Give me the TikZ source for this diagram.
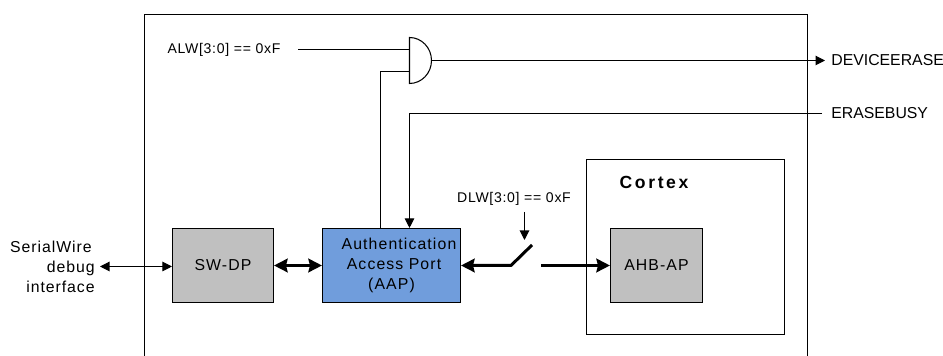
\documentclass[tikz,border=0pt]{standalone}
\usepackage{fontspec}
\setmainfont{Liberation Sans}
\usepackage{xcolor}
\usetikzlibrary{arrows.meta}
\definecolor{blockgray}{RGB}{192,192,192}
\definecolor{aapblue}{RGB}{112,157,220}
\tikzset{
  block/.style = {draw, line width = .6pt, minimum height = 1.48cm, inner sep = 0, align = center, font = \fontsize{9}{11.2}\selectfont\addfontfeature{LetterSpace=7}},
  thinline/.style = {line width = .6pt},
  thintip/.tip = {Triangle[length = 1.9mm, width = 1.9mm]},
  thicktip/.tip = {Stealth[length = 2.7mm, width = 2.7mm, inset = .3mm]},
  thinarrow/.style = {thinline, -thintip},
  thickarrow/.style = {line width = 1.7pt, -thicktip},
  smalltext/.style = {inner sep = 0, font = \fontsize{8}{10}\selectfont\addfontfeature{LetterSpace=5}},
  pintext/.style = {inner sep = 0, anchor = west, font = \fontsize{9}{11}\selectfont}
}
\begin{document}
\begin{tikzpicture}[x = .2mm, y = .2mm]
 \useasboundingbox (0, 0) rectangle (943, 356);
  \draw [thinline] (144.5, 0) -- (144.5, 341.5) -- (807.5, 341.5) -- (807.5, 0);
  \draw [thinline] (586.5, 21.5) rectangle (784.5, 196.5);
  \node [inner sep = 0, font = \fontsize{10}{11}\selectfont\bfseries\addfontfeature{LetterSpace=15}] (cortex) at (654, 174) {Cortex};
  \node [block, fill = blockgray, minimum width = 2.02cm] (swdp) at (223, 90.5) {SW-DP};
  \node [block, fill = aapblue, minimum width = 2.76cm] (aap) at (391.5, 90.5) {\hspace*{.3cm}Authentication\\\hspace*{.1cm}Access Port\\(AAP)};
  \node [block, fill = blockgray, minimum width = 1.84cm] (ahbap) at (656.5, 90.5) {AHB-AP};
  \node [smalltext] (alw) at (224, 306) {ALW[3:0] == 0xF};
  \node [smalltext] (dlw) at (514, 157.5) {DLW[3:0] == 0xF};
  \node [inner sep = 0, align = right, anchor = east, font = \fontsize{9}{11.2}\selectfont\addfontfeature{LetterSpace=6}] (serial) at (95, 89) {SerialWire\hspace*{.06cm}\\debug\hspace*{.1cm}\\interface};
  \node [pintext] (erase) at (831, 295.5) {DEVICEERASE};
  \node [pintext] (busy) at (831, 242.5) {ERASEBUSY};
  \coordinate (gatea) at (409.5, 306.5);
  \coordinate (gateb) at (409.5, 284.5);
  \coordinate (gateo) at (431.5, 295.5);
  \coordinate (gatewire) at (380.5, 284.5);
  \coordinate (alwend) at (298, 306.5);
  \coordinate (dlwend) at (524.5, 144);
  \coordinate (dlwtip) at (524.5, 116);
  \coordinate (serialend) at (100, 89.5);
  \coordinate (hinge) at (511, 90.5);
  \coordinate (blade) at (532, 111);
  \coordinate (contact) at (541, 90.5);
  \coordinate (eraseend) at (825, 295.5);
  \coordinate (busyend) at (822, 242.5);
  \coordinate (busycorner) at (409.5, 242.5);
  \draw [thinline] (409.5, 318.5) -- (409.5, 272.5) arc [start angle = -90, end angle = 90, x radius = 22, y radius = 23] -- cycle;
  \draw [thinline] (alwend) -- (gatea);
  \draw [thinline] (aap.north -| gatewire) -- (gatewire) -- (gateb);
  \draw [thinarrow] (gateo) -- (eraseend);
  \draw [thinarrow] (busyend) -- (busycorner) -- (aap.north -| busycorner);
  \draw [thinarrow] (dlwend) -- (dlwtip);
  \draw [thinline, thintip-thintip] (serialend) -- (swdp.west |- serialend);
  \draw [line width = 1.7pt, thicktip-thicktip] (swdp.east) -- (aap.west);
  \draw [thickarrow, line join = round] (blade) -- (hinge) -- (aap.east);
  \draw [thickarrow] (contact) -- (ahbap.west);
\end{tikzpicture}
\end{document}
